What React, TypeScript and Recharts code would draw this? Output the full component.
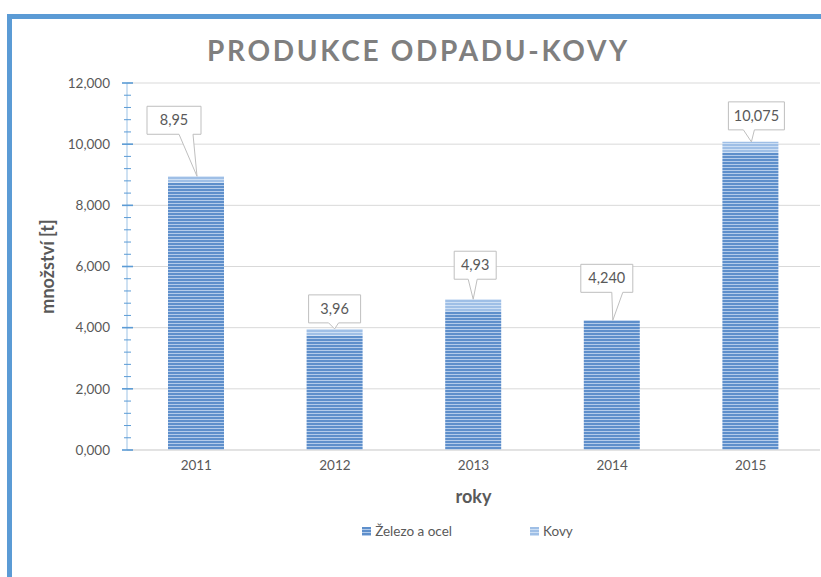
import React from 'react';
import { BarChart, Bar, XAxis, YAxis, CartesianGrid, Legend, LabelList } from 'recharts';

const years = ['2011', '2012', '2013', '2014', '2015'];
const zelezoAOcel = [8.75, 3.74, 4.54, 4.24, 9.715];
const kovy = [0.2, 0.22, 0.39, 0, 0.36];
const totalLabels = ['8,95', '3,96', '4,93', '4,240', '10,075'];
const majorTicks = [0, 2, 4, 6, 8, 10, 12];

const data = years.map((year, i) => ({
  year,
  zelezo: zelezoAOcel[i],
  kovy: kovy[i],
  label: totalLabels[i],
}));

// minor ticks every 0.4 between the majors
const allTicks = Array.from({ length: 31 }, (_, i) => (i * 4) / 10);

// callout box placement relative to the bar top (dx from bar centre, gap above bar)
const calloutLayout = [
  { dx: -22, gap: 42, w: 54, p1: 5, p2: 19, tip: 1 },
  { dx: 0, gap: 6, w: 52, p1: -6, p2: 4, tip: 0 },
  { dx: 2, gap: 20, w: 42, p1: -7, p2: 2, tip: 0 },
  { dx: -5, gap: 28, w: 52, p1: 5, p2: 16, tip: 1 },
  { dx: 6, gap: 12, w: 56, p1: -13, p2: -2, tip: 1 },
];

const FONT = 'Lato, "Open Sans", sans-serif';
const GREY = '#595959';

const YTick = ({ x, y, payload }: any) => {
  const v = payload.value;
  const major = Math.round(v * 10) % 20 === 0;
  return (
    <g>
      <line
        x1={major ? x - 5 : x - 3}
        x2={major ? x + 6 : x + 4}
        y1={y}
        y2={y}
        stroke="#5b9bd5"
        strokeWidth={major ? 1.6 : 1}
      />
      {major && (
        <text x={x - 17} y={y} dy="0.35em" textAnchor="end" fontSize={13.5} fill={GREY} fontFamily={FONT}>
          {v.toFixed(3).replace('.', ',')}
        </text>
      )}
    </g>
  );
};

// attached to the bottom series; the stack top is found from that bar's own px/unit
const Callout = (p: any) => {
  const { x, y, width, height, value, index } = p;
  const L = calloutLayout[index];
  const perUnit = height / zelezoAOcel[index];
  const topY = y - kovy[index] * perUnit;
  const cx = x + width / 2;
  const bx = cx + L.dx;
  const h = 28;
  const bottom = topY - L.gap;
  const top = bottom - h;
  const left = bx - L.w / 2;
  const right = bx + L.w / 2;
  const d = `M${left},${top} H${right} V${bottom} H${bx + L.p2} L${cx + L.tip},${topY} L${bx + L.p1},${bottom} H${left} Z`;
  return (
    <g>
      <path d={d} fill="#fff" stroke="#bfbfbf" strokeWidth={1} />
      <text x={bx} y={top + h / 2} dy="0.35em" textAnchor="middle" fontSize={14.5} fill={GREY} fontFamily={FONT}>
        {value}
      </text>
    </g>
  );
};

const swatch = (base: string, stripe: string) => ({
  display: 'inline-block',
  width: 9,
  height: 9,
  marginRight: 4,
  background: `repeating-linear-gradient(180deg, ${base} 0px, ${base} 2px, ${stripe} 2px, ${stripe} 3px)`,
});

const LegendContent = () => (
  <div
    style={{
      display: 'flex',
      justifyContent: 'center',
      gap: 78,
      paddingRight: 12,
      fontFamily: FONT,
      fontSize: 13.5,
      color: GREY,
    }}
  >
    <span style={{ display: 'flex', alignItems: 'center' }}>
      <span style={swatch('#5e8fcb', '#b3cbea')} />
      Železo a ocel
    </span>
    <span style={{ display: 'flex', alignItems: 'center' }}>
      <span style={swatch('#9fbfe6', '#cddff4')} />
      Kovy
    </span>
  </div>
);

export default function App() {
  return (
    <div style={{ position: 'absolute', left: 0, top: 0, width: 821, height: 577, overflow: 'hidden', background: '#fff' }}>
      <div
        style={{
          position: 'absolute',
          left: 7,
          top: 14,
          width: 900,
          height: 700,
          borderLeft: '5px solid #5b9bd5',
          borderTop: '5px solid #5b9bd5',
        }}
      />
      <div
        style={{
          position: 'absolute',
          left: 0,
          top: 33,
          width: 821,
          textAlign: 'center',
          paddingLeft: 16,
          boxSizing: 'border-box',
          fontFamily: FONT,
          fontWeight: 700,
          fontSize: 28,
          letterSpacing: 2.7,
          color: '#7f7f7f',
        }}
      >
        PRODUKCE ODPADU-KOVY
      </div>
      <div style={{ position: 'absolute', left: 0, top: 0 }}>
        <BarChart width={821} height={577} data={data} margin={{ top: 83, right: 1, left: 0, bottom: 0 }} barSize={56}>
          <defs>
            <pattern id="stripeDark" width="4" height="3" patternUnits="userSpaceOnUse">
              <rect width="4" height="3" fill="#5e8fcb" />
              <rect y="2" width="4" height="1" fill="#b3cbea" />
            </pattern>
            <pattern id="stripeLight" width="4" height="3" patternUnits="userSpaceOnUse">
              <rect width="4" height="3" fill="#9fbfe6" />
              <rect y="2" width="4" height="1" fill="#cddff4" />
            </pattern>
          </defs>
          <CartesianGrid vertical={false} horizontalValues={majorTicks} stroke="#d9d9d9" />
          <XAxis
            dataKey="year"
            height={127}
            tickLine={false}
            tickSize={0}
            tickMargin={10}
            axisLine={{ stroke: '#d9d9d9' }}
            tick={{ fontSize: 13.5, fill: GREY, fontFamily: FONT }}
            label={{
              value: 'roky',
              position: 'insideTop',
              offset: 40,
              style: { fontSize: 18, fontWeight: 700, fill: GREY, fontFamily: FONT },
            }}
          />
          <YAxis
            width={127}
            domain={[0, 12]}
            ticks={allTicks}
            interval={0}
            tickLine={false}
            tickSize={0}
            tickMargin={0}
            axisLine={{ stroke: '#9dc3e6' }}
            tick={<YTick />}
            label={{
              value: 'množství [t]',
              angle: -90,
              position: 'insideLeft',
              offset: 48,
              style: { fontSize: 18, fontWeight: 700, fill: GREY, fontFamily: FONT, textAnchor: 'middle' },
            }}
          />
          <Legend
            verticalAlign="middle"
            align="center"
            content={<LegendContent />}
            wrapperStyle={{ top: 523, left: 127, width: 693 }}
          />
          <Bar dataKey="zelezo" name="Železo a ocel" stackId="a" fill="url(#stripeDark)" isAnimationActive={false}>
            <LabelList dataKey="label" content={<Callout />} />
          </Bar>
          <Bar dataKey="kovy" name="Kovy" stackId="a" fill="url(#stripeLight)" isAnimationActive={false} />
        </BarChart>
      </div>
    </div>
  );
}
